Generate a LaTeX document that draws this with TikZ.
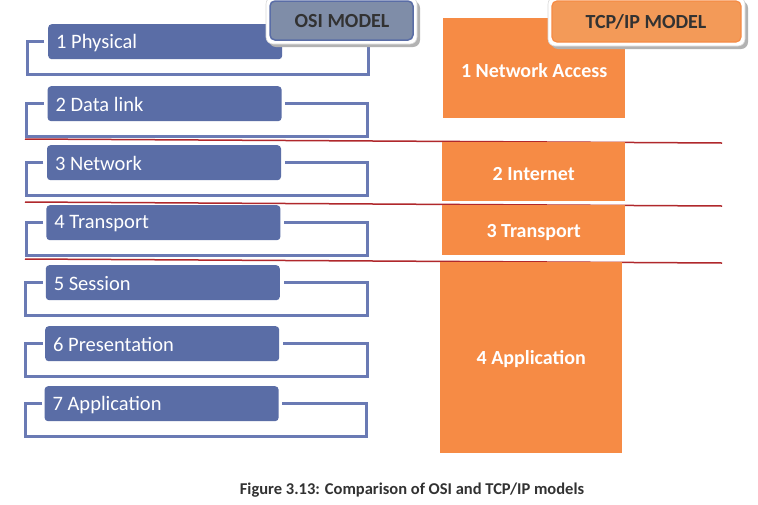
\documentclass[tikz,border=0pt]{standalone}
\usepackage{fontspec}
\setmainfont{Carlito}
\usetikzlibrary{calc}
\definecolor{osiblue}{RGB}{90,109,166}
\definecolor{brackblue}{RGB}{106,122,180}
\definecolor{tcporange}{RGB}{246,139,69}
\definecolor{hdrorange}{RGB}{243,154,88}
\definecolor{hdrgray}{RGB}{127,141,168}
\definecolor{sepred}{RGB}{176,40,44}
\definecolor{captext}{RGB}{50,50,50}
\tikzset{
  osibox/.style={fill=osiblue, rounded corners=3.5pt, minimum width=234pt, minimum height=35pt, inner sep=0pt, anchor=north west},
  osilabel/.style={text=white, anchor=west, inner sep=0pt, font=\fontsize{20.5}{24}\selectfont},
  bracket/.style={draw=brackblue, line width=3pt},
  tcpbox/.style={fill=tcporange, inner sep=0pt, anchor=north west},
  tcplabel/.style={text=white, font=\bfseries\fontsize{20}{24}\selectfont, inner sep=0pt},
  sepline/.style={draw=sepred, line width=1.5pt},
  hdrtext/.style={text=captext, font=\bfseries\fontsize{20}{24}\selectfont, inner sep=0pt},
}
\begin{document}
\begin{tikzpicture}[x=1pt,y=-1pt]
\useasboundingbox (0,0) rectangle (758,504);
\fill[white] (0,0) rectangle (758,504);

% OSI layers with brackets
\foreach \i/\ty/\lab in {1/24/1 Physical,2/86/2 Data link,3/145/3 Network,4/205/4 Transport,5/265/5 Session,6/326/6 Presentation,7/386/7 Application}{
  \pgfmathsetmacro{\bx}{48-0.6*(\i-1)}
  \pgfmathsetmacro{\lx}{27-0.3*(\i-1)}
  \pgfmathsetmacro{\rx}{368-0.2*(\i-1)}
  \pgfmathsetmacro{\sy}{\ty+17.5}
  \pgfmathsetmacro{\by}{\ty+50.5}
  \draw[bracket] (\lx+17,\sy) -- (\lx,\sy) -- (\lx,\by) -- (\rx,\by) -- (\rx,\sy) -- (\bx+238,\sy);
  \node[osibox] (b\i) at (\bx,\ty) {};
  \node[osilabel] (l\i) at ($(b\i.west)+(8,1)$) {\lab};
}

% separator lines
\coordinate (s1a) at (25,139); \coordinate (s1b) at (722,143);
\coordinate (s2a) at (25,202); \coordinate (s2b) at (722,206);
\coordinate (s3a) at (25,259); \coordinate (s3b) at (722,263);
\draw[sepline] (s1a) -- (s1b);
\draw[sepline] (s2a) -- (s2b);
\draw[sepline] (s3a) -- (s3b);

% TCP/IP layers
\node[tcpbox, minimum width=182pt, minimum height=100pt] (t1) at (443,18) {};
\node[tcplabel] (tl1) at ($(t1.center)+(0,2)$) {1 Network Access};
\node[tcpbox, minimum width=183pt, minimum height=59pt] (t2) at (442,142) {};
\node[tcplabel] (tl2) at ($(t2.center)+(0,2)$) {2 Internet};
\node[tcpbox, minimum width=183pt, minimum height=50pt] (t3) at (442,205) {};
\node[tcplabel] (tl3) at ($(t3.center)+(0,2)$) {3 Transport};
\node[tcpbox, minimum width=182pt, minimum height=191pt] (t4) at (440,262) {};
\node[tcplabel] (tl4) at ($(t4.center)+(0,1)$) {4 Application};

% OSI header
\fill[black!30, rounded corners=7pt] (269,1) rectangle (420,47);
\fill[white, rounded corners=7pt] (266,-3) rectangle (417,44);
\draw[black!15, line width=0.6pt, rounded corners=7pt] (266,-3) rectangle (417,44);
\fill[hdrgray, rounded corners=5pt] (270,1) rectangle (413,40);
\draw[osiblue, line width=1.5pt, rounded corners=5pt] (270,1) rectangle (413,40);
\node[hdrtext] (osih) at (342,21) {OSI MODEL};

% TCP/IP header
\fill[black!30, rounded corners=7pt] (551,1) rectangle (748,49);
\fill[white, rounded corners=7pt] (548,-3) rectangle (745,46);
\draw[black!15, line width=0.6pt, rounded corners=7pt] (548,-3) rectangle (745,46);
\fill[hdrorange, rounded corners=5pt] (552,1) rectangle (741,42);
\draw[tcporange, line width=1.2pt, rounded corners=5pt] (552,1) rectangle (741,42);
\node[hdrtext] (tcph) at (646,22) {TCP/IP MODEL};

% caption
\node[text=captext, font=\bfseries\fontsize{16.5}{20}\selectfont, inner sep=0pt] (cap) at (412,490) {Figure 3.13: Comparison of OSI and TCP/IP models};
\end{tikzpicture}
\end{document}
